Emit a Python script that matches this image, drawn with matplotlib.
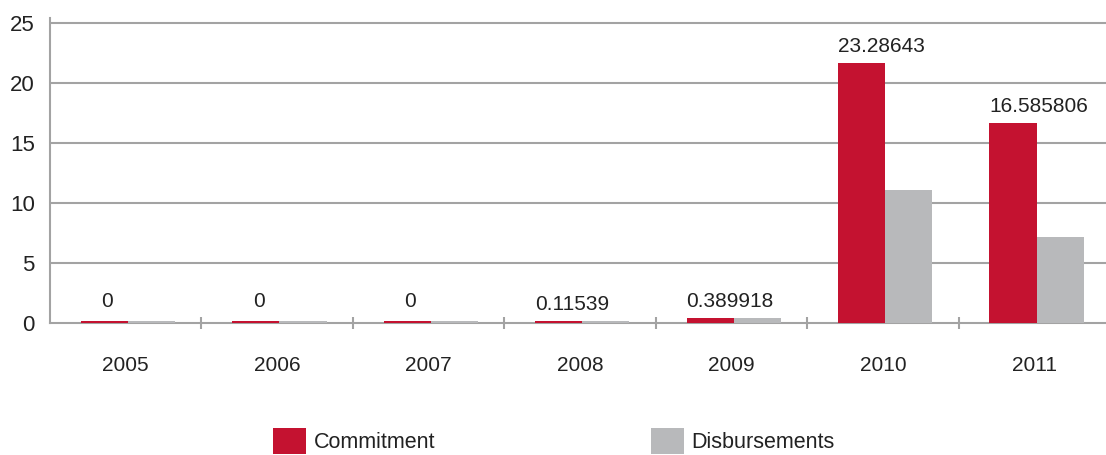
import matplotlib
matplotlib.use("Agg")
import matplotlib.pyplot as plt
import numpy as np
from matplotlib.patches import Patch

years = ["2005", "2006", "2007", "2008", "2009", "2010", "2011"]
commitment = [0.2, 0.2, 0.2, 0.2, 0.42, 21.65, 16.65]
disbursements = [0.2, 0.2, 0.2, 0.2, 0.4, 11.1, 7.2]
value_labels = ["0", "0", "0", "0.11539", "0.389918", "23.28643", "16.585806"]
yticks = [0, 5, 10, 15, 20, 25]

RED = "#C41230"
GRAY = "#B8B9BB"
GRID = "#A3A3A3"
TXT = "#222222"

plt.rcParams["font.family"] = ["Liberation Sans", "DejaVu Sans"]

W, H = 1106, 455
fig = plt.figure(figsize=(W / 100, H / 100), dpi=100)
ax = fig.add_axes([50 / W, (H - 323) / H, 1060 / W, (323 - 18) / H])

x = np.arange(len(years))
bw = 0.311
off = 0.015
ax.bar(x - bw + off, commitment, width=bw, align="edge", color=RED, zorder=3)
ax.bar(x + off, disbursements, width=bw, align="edge", color=GRAY, zorder=3)

ax.set_xlim(-0.5, len(years) - 0.5)
ax.set_ylim(0, 25 * (323 - 18) / (323 - 23))

# gridlines
for v in yticks[1:]:
    ax.axhline(v, color=GRID, lw=1.5, zorder=1)

for s in ["top", "right"]:
    ax.spines[s].set_visible(False)
for s in ["left", "bottom"]:
    ax.spines[s].set_color(GRID)
    ax.spines[s].set_linewidth(1.5)

ax.set_yticks(yticks)
ax.set_yticklabels([str(v) for v in yticks], fontsize=16, color=TXT)
ax.tick_params(axis="y", length=0, pad=11)

# category boundary ticks and centered labels
ax.set_xticks(np.arange(0.5, len(years) - 0.5, 1.0))
ax.set_xticklabels([])
ax.tick_params(axis="x", which="major", direction="inout", length=9, width=1.5, color=GRID)
ax.set_xticks(x, minor=True)
ax.set_xticklabels(years, minor=True, fontsize=15, color=TXT)
ax.tick_params(axis="x", which="minor", length=0, pad=24)

# value labels above commitment bars
for i, (v, lab) in enumerate(zip(commitment, value_labels)):
    left = i - bw + off
    if len(lab) > 1:
        ax.annotate(lab, (left, v), xytext=(0, 5), textcoords="offset points",
                    ha="left", va="bottom", fontsize=15, color=TXT)
    else:
        ax.annotate(lab, (left + bw / 2, v), xytext=(2, 7), textcoords="offset points",
                    ha="center", va="bottom", fontsize=15, color=TXT)

handles = [Patch(facecolor=RED, edgecolor="none", label="Commitment"),
           Patch(facecolor=GRAY, edgecolor="none", label="Disbursements")]
fig.legend(handles=handles, loc="lower left", bbox_to_anchor=(273 / W, 1 / H),
           ncol=2, frameon=False, fontsize=15.5, handlelength=1.55, handleheight=1.45,
           handletextpad=0.35, columnspacing=10.0, borderpad=0, borderaxespad=0,
           labelcolor=TXT)

fig.savefig("out.png", dpi=100)
